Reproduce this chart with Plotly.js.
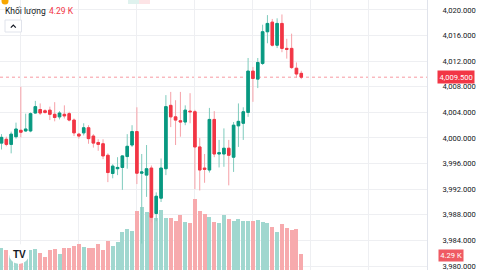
<!DOCTYPE html>
<html><head><meta charset="utf-8">
<script src="https://cdn.plot.ly/plotly-3.0.1.min.js"></script>
<style>html,body{margin:0;padding:0;background:#fff;overflow:hidden;} #chart{width:480px;height:270px;}</style>
</head><body><div id="chart"></div>
<script>
const openP  = [3999.2,3999.8,3999.0,4000.2,4001.2,4001.1,4001.1,4003.9,4004.45,4004.25,4004.35,4003.7,4003.3,4003.7,4003.8,4002.8,4000.6,4000.8,4001.6,4000.3,3999.3,3999.1,3997.3,3994.45,3995.2,3995.4,3997.1,3998.9,4001.0,3994.5,3994.2,3995.3,3988.2,3990.6,3995.2,4005.1,4003.3,4002.7,4002.5,4004.2,4004.1,3998.6,3995.3,3995.0,4002.9,3997.5,3997.5,3998.4,3997.0,4001.9,4002.3,4004.0,4010.45,4009.2,4011.65,4016.6,4018.1,4014.5,4017.9,4014.0,4014.0,4010.9,4010.1];
const highP  = [4000.6,4000.2,4001.0,4002.4,4008.0,4003.8,4004.0,4005.8,4005.4,4004.5,4004.9,4005.6,4004.2,4005.1,4004.1,4003.05,4000.8,4002.3,4002.0,4000.6,3999.8,3999.8,3997.6,3995.9,3997.0,3997.3,4000.6,4002.0,4004.8,3997.5,3998.9,3995.7,3991.5,3996.8,4006.7,4007.2,4005.9,4007.2,4005.1,4007.0,4004.4,4000.0,3997.5,4004.7,4004.2,3999.7,4001.5,3999.7,4002.5,4005.4,4004.8,4012.5,4011.1,4012.5,4017.7,4019.2,4018.6,4018.7,4019.3,4015.5,4016.3,4011.8,4010.5];
const lowP   = [3998.2,3998.7,3997.6,3999.9,4000.1,4000.95,4000.9,4003.8,4003.6,4003.8,4002.8,4002.6,4002.9,4003.05,4002.6,4000.3,3999.9,4000.4,3999.1,3998.5,3998.0,3996.7,3993.1,3993.7,3994.2,3991.9,3995.2,3998.6,3992.8,3983.5,3990.8,3986.8,3987.0,3990.0,3994.2,4001.7,3998.9,4000.2,4002.0,4002.3,3992.0,3991.8,3993.0,3994.6,3997.0,3995.4,3995.5,3992.6,3994.7,3998.6,3999.7,4003.3,4005.65,4007.8,4011.4,4014.8,4014.3,4014.05,4013.4,4012.4,4010.8,4009.4,4009.2];
const closeP = [4000.1,3999.0,4000.6,4001.4,4000.9,4001.4,4003.8,4004.9,4003.9,4004.0,4003.7,4003.2,4003.9,4003.45,4002.8,4000.8,4000.3,4001.6,3999.9,3999.2,3999.0,3997.2,3994.6,3995.6,3995.4,3997.2,3998.7,4001.0,3994.5,3994.7,3995.2,3987.6,3990.9,3995.3,4004.9,4003.3,4002.8,4002.5,4004.35,4004.1,3998.6,3995.0,3995.1,4002.9,3997.5,3997.7,3998.4,3997.3,4002.0,4002.6,4004.1,4010.45,4009.3,4011.8,4016.6,4017.9,4014.5,4017.9,4014.0,4013.85,4011.0,4010.0,4009.5];
const volumeK = [5.6,5.2,3.9,4.2,3.1,4.4,5.2,5.5,4.5,3.3,5.2,5.5,4.2,5.6,5.6,6.2,6.8,6.1,5.6,5.6,6.7,5.2,7.6,6.2,7.2,9.8,10.6,10.2,15.3,16.3,15.2,14.8,13.5,15.6,13.4,13.4,12.7,14.3,12.6,12.1,18.5,15.4,14.5,13.9,12.6,12.1,14.3,13.2,12.8,13.2,12.8,12.8,12.8,13.0,12.6,12.1,11.3,10.0,12.0,10.8,10.4,10.6,4.29];
const volumeTitle = 'Khối lượng';

const idx = openP.map((_, i) => i);
const last = idx.length - 1;
const isUp = idx.map(i => closeP[i] >= openP[i]);
const UP = '#089981', DOWN = '#f23645';
const UPW = '#7fcbbd', DOWNW = '#f6a0a7';
const FONT = 'Roboto, "Noto Sans", sans-serif';
const volText = volumeK[last].toFixed(2) + ' K';
const priceText = closeP[last].toLocaleString('en-US', {minimumFractionDigits: 3, maximumFractionDigits: 3});

const traces = [
  {type: 'bar', x: idx, y: volumeK, yaxis: 'y', width: 0.82,
   marker: {color: isUp.map(u => u ? '#a0d7cf' : '#f7aaad'), line: {width: 0}}, hoverinfo: 'skip'},
  {type: 'candlestick', x: idx, open: openP, high: highP, low: lowP, close: closeP, yaxis: 'y2',
   whiskerwidth: 0,
   increasing: {line: {color: UPW, width: 1}, fillcolor: UPW},
   decreasing: {line: {color: DOWNW, width: 1}, fillcolor: DOWNW}, hoverinfo: 'skip'},
  {type: 'candlestick', x: idx, open: openP, close: closeP,
   high: idx.map(i => Math.max(openP[i], closeP[i])),
   low: idx.map(i => Math.min(openP[i], closeP[i])), yaxis: 'y2',
   whiskerwidth: 0,
   increasing: {line: {color: UP, width: 1}, fillcolor: UP},
   decreasing: {line: {color: DOWN, width: 1}, fillcolor: DOWN}, hoverinfo: 'skip'}
];

const layout = {
  width: 480, height: 270,
  margin: {l: 0, r: 53, t: 0, b: 0, pad: 0},
  paper_bgcolor: '#ffffff', plot_bgcolor: '#ffffff',
  showlegend: false, boxgap: 0.48, boxgroupgap: 0, bargap: 0,
  xaxis: {range: [-0.31, 88.0], showticklabels: false, showgrid: true, gridcolor: '#eeeff2', gridwidth: 1,
          tick0: 4, dtick: 12, zeroline: false, ticks: '', rangeslider: {visible: false}, fixedrange: true},
  yaxis: {range: [0, 70.2], visible: false, showgrid: false, zeroline: false, fixedrange: true},
  yaxis2: {overlaying: 'y', side: 'right', range: [3979.375, 4021.56], tick0: 3980, dtick: 4,
           tickformat: ',.3f', showgrid: true, gridcolor: '#eeeff2', zeroline: false,
           showline: true, linecolor: '#e0e3eb', ticks: 'outside', ticklen: 13, tickcolor: 'rgba(0,0,0,0)',
           ticklabeloverflow: 'allow',
           tickfont: {family: FONT, size: 7.6, color: '#131722'}, fixedrange: true},
  shapes: [
    {type: 'line', xref: 'paper', yref: 'y2', x0: 0, x1: 1, y0: closeP[last], y1: closeP[last],
     line: {color: 'rgba(242,54,69,0.5)', width: 1, dash: 'dot'}, layer: 'below'},
    {type: 'circle', xref: 'paper', yref: 'paper', xsizemode: 'pixel', ysizemode: 'pixel', xanchor: 0, yanchor: 0,
     x0: 9, x1: 29, y0: 6, y1: 26, fillcolor: '#ffffff', line: {width: 0}},
    {type: 'rect', xref: 'paper', yref: 'paper', xsizemode: 'pixel', ysizemode: 'pixel', xanchor: 0, yanchor: 1,
     x0: 5, x1: 21.5, y0: -20, y1: -32, fillcolor: '#ffffff', line: {color: '#e0e3eb', width: 1}},
    {type: 'path', xref: 'paper', yref: 'paper', xsizemode: 'pixel', ysizemode: 'pixel', xanchor: 0, yanchor: 1,
     path: 'M 10.8 -27.6 L 13.3 -25.1 L 15.8 -27.6', line: {color: '#131722', width: 1.2}},
    {type: 'circle', xref: 'paper', yref: 'paper', xsizemode: 'pixel', ysizemode: 'pixel', xanchor: 0, yanchor: 1,
     x0: 1.5, x1: 8.5, y0: 2.5, y1: -4.5, fillcolor: '#f7a600', line: {width: 0}},
    {type: 'rect', xref: 'paper', yref: 'paper', xsizemode: 'pixel', ysizemode: 'pixel', xanchor: 0, yanchor: 1,
     x0: 128, x1: 139, y0: 3, y1: -4, fillcolor: '#dff2ee', line: {width: 0}},
    {type: 'rect', xref: 'paper', yref: 'paper', xsizemode: 'pixel', ysizemode: 'pixel', xanchor: 0, yanchor: 1,
     x0: 139, x1: 150, y0: 3, y1: -4, fillcolor: '#fde4e6', line: {width: 0}}
  ],
  annotations: [
    {xref: 'paper', yref: 'y2', x: 1, y: closeP[last], xanchor: 'left', yanchor: 'middle', xshift: 10,
     text: priceText, showarrow: false, bgcolor: DOWN, borderpad: 1.5,
     font: {family: FONT, size: 7.6, color: '#ffffff'}},
    {xref: 'paper', yref: 'y', x: 1, y: volumeK[last], xanchor: 'left', yanchor: 'middle', xshift: 11, yshift: -1.5,
     text: volText, showarrow: false, bgcolor: '#ef5a63', borderpad: 1.2,
     font: {family: FONT, size: 7.6, color: '#ffffff'}},
    {xref: 'paper', yref: 'paper', x: 0, y: 1, xanchor: 'left', yanchor: 'middle', xshift: 3, yshift: -11,
     text: volumeTitle, showarrow: false, font: {family: FONT, size: 8.5, color: '#131722'}},
    {xref: 'paper', yref: 'paper', x: 0, y: 1, xanchor: 'left', yanchor: 'middle', xshift: 47, yshift: -11,
     text: volText, showarrow: false, font: {family: FONT, size: 8.5, color: '#f23645'}},
    {xref: 'paper', yref: 'paper', x: 0, y: 0, xanchor: 'center', yanchor: 'middle', xshift: 19, yshift: 16,
     text: '<b>TV</b>', showarrow: false, font: {family: 'Arial, sans-serif', size: 10, color: '#131722'}}
  ]
};

Plotly.newPlot('chart', traces, layout, {staticPlot: true, displayModeBar: false});
</script>
</body></html>
